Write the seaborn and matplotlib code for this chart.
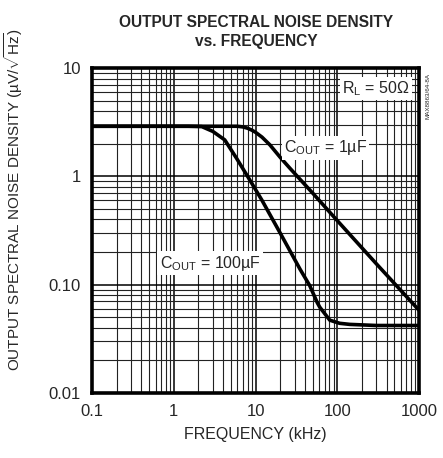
import numpy as np
import pandas as pd
import matplotlib
matplotlib.use("Agg")
import matplotlib.pyplot as plt
from matplotlib.ticker import LogLocator, FixedLocator, FixedFormatter, NullFormatter
import seaborn as sns

# =========================
# DATA
# =========================
freq_1uF = [0.1, 1, 5, 6, 7, 8, 9, 10, 12, 15, 20, 26, 50, 100, 300, 1000]
noise_1uF = [2.9, 2.9, 2.9, 2.9, 2.86, 2.78, 2.67, 2.55, 2.3, 1.95, 1.5, 1.2,
             0.70, 0.39, 0.156, 0.058]

freq_100uF = [0.1, 1, 1.5, 2.2, 3.0, 4.2, 5.85, 8.4, 12, 20, 35, 46, 57, 61,
              81, 107, 142, 300, 1000]
noise_100uF = [2.9, 2.9, 2.9, 2.88, 2.6, 2.17, 1.47, 0.94, 0.6, 0.30, 0.139,
               0.098, 0.068, 0.062, 0.047, 0.044, 0.043, 0.042, 0.042]

x_ticks = [0.1, 1, 10, 100, 1000]
x_ticklabels = ["0.1", "1", "10", "100", "1000"]
y_ticks = [0.01, 0.1, 1, 10]
y_ticklabels = ["0.01", "0.10", "1", "10"]

df = pd.concat([
    pd.DataFrame({"freq": freq_1uF, "noise": noise_1uF, "cout": "1uF"}),
    pd.DataFrame({"freq": freq_100uF, "noise": noise_100uF, "cout": "100uF"}),
])

# =========================
# STYLE
# =========================
sns.set_style("white")
plt.rcParams["font.family"] = ["Liberation Sans", "DejaVu Sans"]
plt.rcParams["mathtext.fontset"] = "custom"
plt.rcParams["mathtext.rm"] = "Liberation Sans"

fig = plt.figure(figsize=(4.43, 4.58), dpi=100)
ax = fig.add_axes([0.2077, 0.1419, 0.7383, 0.7096])

sns.lineplot(data=df, x="freq", y="noise", hue="cout",
             palette={"1uF": "black", "100uF": "black"},
             linewidth=2.6, legend=False, ax=ax, zorder=5)

ax.set_xscale("log")
ax.set_yscale("log")
ax.set_xlim(0.1, 1000)
ax.set_ylim(0.01, 10)

# dense log grid
ax.xaxis.set_minor_locator(LogLocator(base=10, subs=np.arange(2, 10)))
ax.yaxis.set_minor_locator(LogLocator(base=10, subs=np.arange(2, 10)))
ax.xaxis.set_minor_formatter(NullFormatter())
ax.yaxis.set_minor_formatter(NullFormatter())
ax.grid(which="major", color="black", linewidth=1.1)
ax.grid(which="minor", color="#222222", linewidth=0.8)

ax.xaxis.set_major_locator(FixedLocator(x_ticks))
ax.xaxis.set_major_formatter(FixedFormatter(x_ticklabels))
ax.yaxis.set_major_locator(FixedLocator(y_ticks))
ax.yaxis.set_major_formatter(FixedFormatter(y_ticklabels))
ax.tick_params(which="both", length=0, labelsize=12, pad=8)

for s in ax.spines.values():
    s.set_visible(True)
    s.set_color("black")
    s.set_linewidth(2.6)

ax.set_xlabel("FREQUENCY (kHz)", fontsize=11.5, labelpad=6)
ax.set_ylabel(r"OUTPUT SPECTRAL NOISE DENSITY (µV/$\sqrt{\mathregular{Hz}}$)",
              fontsize=11.0)
ax.yaxis.set_label_coords(-0.205, 0.595)

fig.text(0.578, 0.93, "OUTPUT SPECTRAL NOISE DENSITY\nvs. FREQUENCY",
         ha="center", va="center", fontweight="bold",
         fontsize=11.2, linespacing=1.35)

# =========================
# ANNOTATIONS
# =========================
box = dict(facecolor="white", edgecolor="none", pad=1.5)
ax.text(0.869, 0.938, r"R$_\mathregular{L}$ = 50Ω", transform=ax.transAxes,
        ha="center", va="center", fontsize=11.5, bbox=box, zorder=6)
ax.text(0.713, 0.754, r"C$_\mathregular{OUT}$ = 1µF", transform=ax.transAxes,
        ha="center", va="center", fontsize=11.5, bbox=box, zorder=6)
ax.text(0.361, 0.40, r"C$_\mathregular{OUT}$ = 100µF", transform=ax.transAxes,
        ha="center", va="center", fontsize=11.5, bbox=box, zorder=6)
fig.text(0.966, 0.79, "MAX8863/64-8A", rotation=90, ha="center", va="center",
         fontsize=4.5)

fig.savefig("out.png", dpi=100)
